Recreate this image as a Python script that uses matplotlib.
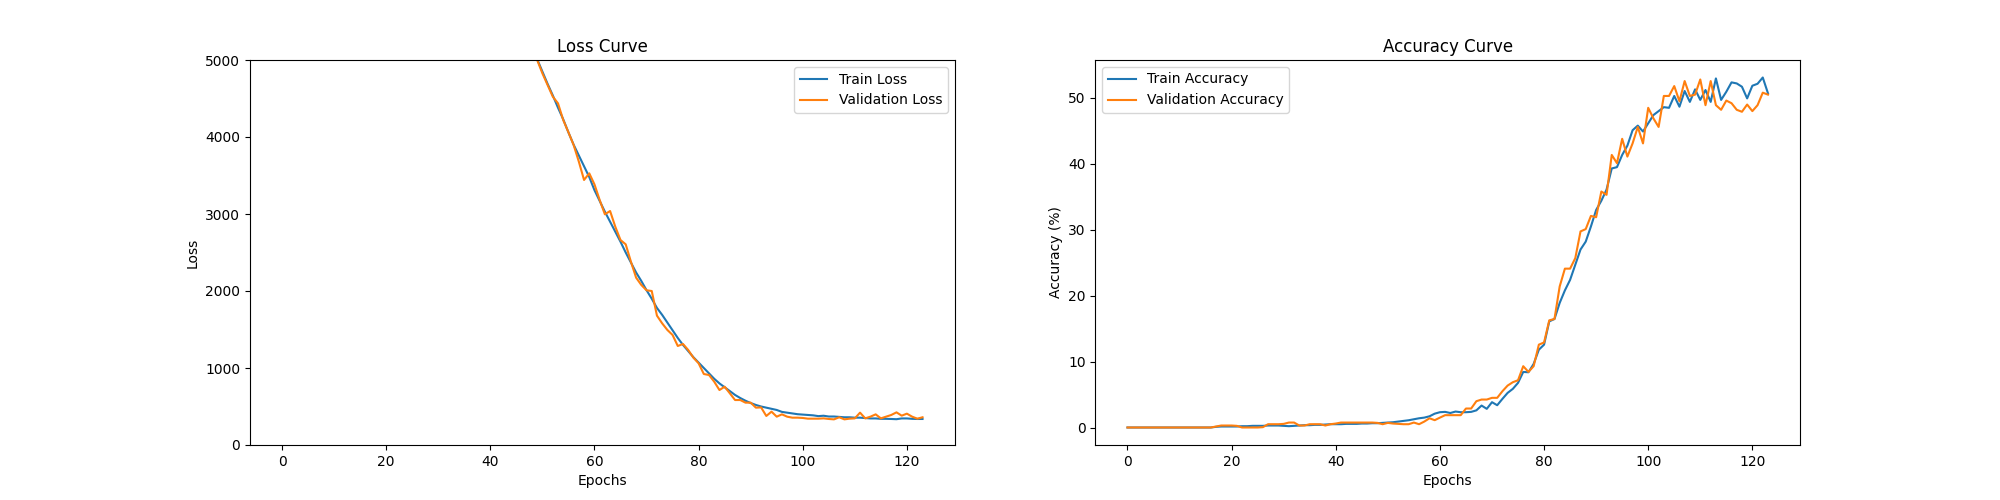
import matplotlib
matplotlib.use("Agg")
import matplotlib.pyplot as plt

epochs = list(range(124))

# Loss values (early epochs lie above the 5000 clip of the y axis)
train_loss = [
    13900, 13700, 13500, 13300, 13100, 12900, 12700, 12500, 12300, 12100,
    11900, 11700, 11500, 11300, 11100, 10900, 10700, 10500, 10300, 10100,
    9900, 9700, 9500, 9300, 9100, 8900, 8700, 8500, 8300, 8100,
    7900, 7700, 7500, 7300, 7120, 6940, 6760, 6580, 6420, 6260,
    6100, 5950, 5800, 5650, 5500, 5350, 5210, 5150, 5080,
    5010, 4850, 4690, 4540, 4380, 4230, 4060, 3900, 3760, 3620,
    3480, 3310, 3170, 3030, 2900, 2770, 2640, 2500, 2370, 2240,
    2130, 2010, 1900, 1780, 1690, 1590, 1490, 1390, 1300, 1220,
    1140, 1070, 1000, 930, 860, 800, 750, 700, 650, 610,
    575, 545, 520, 500, 485, 470, 455, 430, 420, 410,
    400, 395, 390, 385, 375, 380, 370, 370, 365, 360,
    360, 355, 355, 350, 345, 345, 340, 340, 338, 335,
    345, 345, 340, 338, 338,
][:124]
val_loss = [
    14000, 13650, 13550, 13250, 13150, 12850, 12750, 12450, 12350, 12050,
    11950, 11650, 11550, 11250, 11150, 10850, 10750, 10450, 10350, 10050,
    9950, 9650, 9550, 9250, 9150, 8850, 8750, 8450, 8350, 8050,
    7950, 7650, 7550, 7250, 7170, 6890, 6810, 6530, 6470, 6210,
    6150, 5900, 5850, 5600, 5550, 5300, 5260, 5120, 5100,
    5000, 4827, 4675, 4524, 4437, 4221, 4061, 3896, 3680, 3442,
    3528, 3385, 3182, 2996, 3039, 2835, 2662, 2606, 2381, 2173,
    2078, 2009, 2000, 1680, 1580, 1494, 1429, 1286, 1312, 1234,
    1134, 1061, 922, 909, 822, 714, 757, 671, 584, 584,
    550, 550, 485, 488, 377, 433, 368, 398, 368, 355,
    355, 351, 342, 342, 342, 346, 338, 333, 360, 333,
    342, 346, 420, 346, 368, 398, 346, 368, 390, 424,
    381, 407, 368, 342, 360,
][:124]

train_acc = [
    0.0, 0.0, 0.0, 0.0, 0.0, 0.0, 0.0, 0.0, 0.0, 0.0,
    0.0, 0.0, 0.0, 0.0, 0.0, 0.0, 0.0, 0.1, 0.15, 0.15,
    0.15, 0.15, 0.2, 0.2, 0.25, 0.25, 0.25, 0.3, 0.3, 0.3,
    0.25, 0.2, 0.25, 0.3, 0.35, 0.35, 0.4, 0.4, 0.45, 0.5,
    0.5, 0.5, 0.55, 0.55, 0.55, 0.6, 0.6, 0.65, 0.65, 0.7,
    0.75, 0.8, 0.9, 1.0, 1.1, 1.25, 1.4, 1.5, 1.7, 2.1,
    2.32, 2.37, 2.2, 2.42, 2.32, 2.32, 2.37, 2.6, 3.33, 2.83,
    3.84, 3.38, 4.34, 5.25, 5.86, 6.77, 8.43, 8.38, 9.65, 11.8,
    12.57, 16.1, 16.46, 18.9, 20.8, 22.4, 24.7, 27.0, 28.2, 30.5,
    33.0, 34.4, 36.1, 39.3, 39.5, 41.35, 42.76, 45.1, 45.8, 44.9,
    46.15, 47.4, 48.0, 48.6, 48.5, 50.3, 48.67, 51.05, 49.4, 51.3,
    49.7, 51.2, 49.4, 52.96, 49.7, 50.94, 52.36, 52.2, 51.7, 49.93,
    51.85, 52.15, 53.1, 50.7,
]
val_acc = [
    0.0, 0.0, 0.0, 0.0, 0.0, 0.0, 0.0, 0.0, 0.0, 0.0,
    0.0, 0.0, 0.0, 0.0, 0.0, 0.0, 0.0, 0.15, 0.3, 0.3,
    0.3, 0.25, 0.0, 0.0, 0.0, 0.0, 0.05, 0.5, 0.5, 0.5,
    0.55, 0.75, 0.75, 0.3, 0.3, 0.5, 0.5, 0.5, 0.3, 0.5,
    0.6, 0.75, 0.75, 0.75, 0.75, 0.75, 0.75, 0.75, 0.7, 0.5,
    0.7, 0.6, 0.55, 0.5, 0.5, 0.75, 0.5, 0.9, 1.4, 1.11,
    1.5, 1.87, 1.87, 1.87, 1.87, 2.88, 2.88, 3.99, 4.24, 4.24,
    4.5, 4.5, 5.5, 6.36, 6.87, 7.17, 9.3, 8.43, 9.3, 12.57,
    12.9, 16.26, 16.46, 21.4, 24.1, 24.1, 25.7, 29.75, 30.1, 32.1,
    31.9, 35.8, 35.3, 41.35, 40.1, 43.8, 41.1, 43.1, 45.6, 43.1,
    48.5, 46.9, 45.6, 50.3, 50.3, 51.8, 49.5, 52.56, 50.3, 50.5,
    52.8, 48.9, 52.56, 48.9, 48.2, 49.6, 49.2, 48.2, 47.9, 49.0,
    48.0, 48.9, 50.8, 50.5,
]

fig, (ax1, ax2) = plt.subplots(1, 2, figsize=(20, 5), dpi=100)

ax1.plot(epochs, train_loss, label="Train Loss")
ax1.plot(epochs, val_loss, label="Validation Loss")
ax1.set_ylim(0, 5000)
ax1.set_title("Loss Curve")
ax1.set_xlabel("Epochs")
ax1.set_ylabel("Loss")
ax1.legend(loc="upper right")

ax2.plot(epochs, train_acc, label="Train Accuracy")
ax2.plot(epochs, val_acc, label="Validation Accuracy")
ax2.set_title("Accuracy Curve")
ax2.set_xlabel("Epochs")
ax2.set_ylabel("Accuracy (%)")
ax2.legend(loc="upper left")

fig.savefig("out.png")
